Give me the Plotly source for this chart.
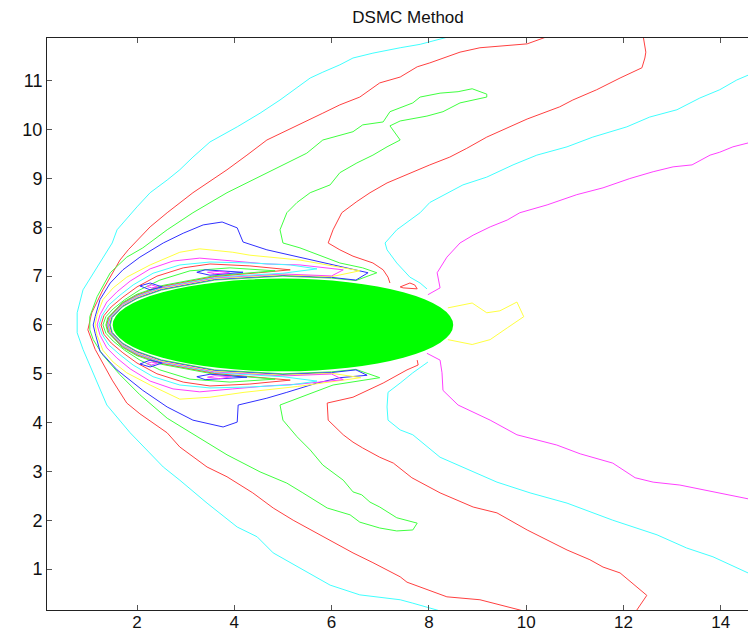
import plotly.graph_objects as go

# ---------------- data ----------------
X_TICKS = [2, 4, 6, 8, 10, 12, 14]
Y_TICKS = [1, 2, 3, 4, 5, 6, 7, 8, 9, 10, 11]
X_RANGE = [0.15, 14.56]
Y_RANGE = [0.16, 11.88]

# body (filled ellipse): centre and semi-axes
BODY_CX, BODY_CY = 5.0, 6.0
BODY_AX, BODY_AY = 3.5, 0.95

# outer cyan bow contour
C1_X = [8.58, 7.82, 7.41, 6.85, 6.44, 6.17, 5.82, 5.56, 4.94, 4.53, 4.06, 3.50, 3.15, 2.88, 2.62, 2.27, 2.00, 1.59, 1.49, 1.24,
        0.89, 0.77, 0.77, 0.89, 1.24, 1.38, 1.86, 2.21, 2.54, 2.88, 3.44, 4.06, 4.47, 4.80, 5.41, 5.97, 6.58, 7.41, 7.67, 8.55]
C1_Y = [11.95, 11.75, 11.68, 11.57, 11.47, 11.33, 11.18, 11.06, 10.61, 10.34, 10.06, 9.75, 9.44, 9.18, 8.97, 8.71, 8.42, 7.95, 7.68, 7.29,
        6.72, 6.25, 5.84, 5.50, 4.66, 4.36, 3.79, 3.44, 3.09, 2.82, 2.35, 1.86, 1.66, 1.33, 0.98, 0.67, 0.47, 0.37, 0.30, 0.05]

# outer red bow contour
R1_X = [10.55, 10.02, 9.05, 8.64, 8.02, 7.76, 7.41, 6.99, 6.58, 6.17, 5.82, 5.21, 4.67, 4.26, 3.85, 3.15, 2.88, 2.62, 2.27, 1.82,
        1.65, 1.30, 1.07, 0.99, 1.14, 1.49, 1.79, 2.06, 2.62, 2.88, 3.44, 3.85, 4.38, 4.80, 5.21, 5.82, 6.44, 6.85, 7.41, 7.55,
        8.37, 9.05, 10.30]
R1_Y = [11.95, 11.76, 11.68, 11.59, 11.37, 11.29, 11.08, 10.96, 10.67, 10.51, 10.34, 10.04, 9.79, 9.48, 9.18, 8.71, 8.51, 8.30, 8.01, 7.54,
        7.33, 6.72, 6.25, 5.90, 5.50, 4.87, 4.40, 4.18, 3.79, 3.50, 3.09, 2.89, 2.56, 2.25, 2.00, 1.66, 1.33, 1.13, 0.84, 0.73,
        0.43, 0.37, 0.05]

# outer green contour (with the loop top right and the fingers along the body)
G1_OUT_X = [6.93, 6.64, 6.17, 5.76, 5.35, 5.00, 4.94, 5.08, 5.29, 5.56, 5.97, 6.17, 6.52, 6.85, 7.14, 7.41, 7.20, 7.41, 7.96, 8.29,
            8.64, 9.19, 9.19, 8.89, 8.60, 8.23, 7.82, 7.67, 7.20, 7.06, 6.64, 6.44, 5.82, 5.49, 4.80, 4.38, 3.85, 3.15, 2.62, 2.12,
            1.79, 1.45, 1.18, 1.03, 1.03, 1.10, 1.30, 1.65, 2.06, 2.62, 3.44, 3.85, 4.53, 5.08, 5.41, 5.91, 6.38, 6.58, 6.99, 7.34,
            7.67, 7.76, 7.34, 6.99, 6.79, 6.62, 6.44, 6.24, 5.82, 5.56, 5.29, 5.00, 4.94, 5.35, 6.03, 6.99]
G1_OUT_Y = [7.07, 7.17, 7.27, 7.43, 7.58, 7.68, 7.95, 8.30, 8.51, 8.71, 8.87, 9.12, 9.32, 9.48, 9.65, 9.79, 10.08, 10.18, 10.28, 10.37,
            10.55, 10.67, 10.73, 10.84, 10.78, 10.75, 10.67, 10.55, 10.37, 10.16, 10.10, 9.96, 9.79, 9.52, 9.18, 8.97, 8.71, 8.30, 7.95, 7.58,
            7.39, 7.07, 6.58, 6.17, 5.90, 5.70, 5.38, 4.98, 4.57, 4.09, 3.58, 3.34, 2.99, 2.76, 2.56, 2.25, 2.11, 1.96, 1.84, 1.78,
            1.80, 1.94, 2.05, 2.27, 2.37, 2.52, 2.58, 2.82, 3.13, 3.44, 3.71, 4.05, 4.36, 4.52, 4.77, 4.92]
G1_RET_X = [6.5, 6.0, 5.0, 3.6, 2.5, 2.0, 1.7, 1.49, 1.45, 1.49, 1.7, 2.0, 2.5, 3.6, 5.0, 6.0, 6.5, 6.93]
G1_RET_Y = [5.09, 5.04, 5.0, 5.08, 5.285, 5.46, 5.63, 5.85, 6.0, 6.15, 6.37, 6.54, 6.715, 6.92, 7.0, 6.96, 6.91, 7.07]

# dense contours hugging the nose (outer side, then the return near the body)
B_OUT_X = [6.75, 6.03, 5.35, 4.67, 4.18, 4.06, 3.75, 3.36, 2.95, 2.54, 2.06, 1.71, 1.45, 1.24, 1.14, 1.10, 1.14, 1.24, 1.59, 2.12,
           2.62, 3.15, 3.77, 4.06, 4.08, 4.67, 5.08, 5.70, 6.17, 6.73]
B_OUT_Y = [7.07, 7.23, 7.39, 7.54, 7.70, 7.99, 8.11, 8.05, 7.88, 7.68, 7.39, 7.13, 6.86, 6.52, 6.17, 6.00, 5.83, 5.46, 5.08, 4.66,
           4.32, 4.05, 3.91, 4.01, 4.36, 4.50, 4.62, 4.81, 4.92, 4.97]
B_RET_X = [6.5, 6.0, 5.0, 3.6, 2.5, 2.0, 1.7, 1.475, 1.435, 1.475, 1.7, 2.0, 2.5, 3.6, 5.0, 6.0, 6.5, 6.75]
B_RET_Y = [5.08, 5.025, 4.985, 5.065, 5.27, 5.445, 5.615, 5.85, 6.0, 6.15, 6.385, 6.555, 6.73, 6.935, 7.015, 6.975, 6.92, 7.07]

Y_OUT_X = [6.58, 6.03, 5.35, 4.32, 3.97, 3.29, 2.88, 2.27, 1.79, 1.51, 1.30, 1.18, 1.14, 1.18, 1.30, 1.51, 1.79, 2.27, 2.88, 3.5,
           4.2, 5.3, 6.0, 6.6]
Y_OUT_Y = [7.11, 7.21, 7.33, 7.43, 7.49, 7.56, 7.49, 7.23, 6.98, 6.76, 6.52, 6.21, 6.00, 5.79, 5.48, 5.24, 5.02, 4.77, 4.48, 4.52,
           4.62, 4.74, 4.83, 4.92]
Y_RET_X = [6.0, 5.0, 3.6, 2.5, 2.0, 1.7, 1.46, 1.42, 1.46, 1.7, 2.0, 2.5, 3.6, 5.0, 6.0, 6.58]
Y_RET_Y = [5.01, 4.97, 5.05, 5.255, 5.43, 5.60, 5.85, 6.0, 6.15, 6.40, 6.57, 6.745, 6.95, 7.03, 6.99, 7.11]

M_OUT_X = [6.24, 5.35, 4.67, 3.97, 3.29, 2.74, 2.27, 1.86, 1.59, 1.38, 1.24, 1.18, 1.24, 1.38, 1.59, 1.86, 2.27, 2.74, 3.29, 3.97,
           4.67, 5.35, 6.24]
M_OUT_Y = [7.13, 7.23, 7.25, 7.31, 7.37, 7.31, 7.15, 6.90, 6.68, 6.47, 6.21, 6.00, 5.79, 5.53, 5.32, 5.10, 4.85, 4.69, 4.63, 4.69,
           4.75, 4.79, 4.88]
M_RET_X = [6.0, 5.0, 3.6, 2.5, 2.0, 1.7, 1.445, 1.405, 1.445, 1.7, 2.0, 2.5, 3.6, 5.0, 6.0, 6.24]
M_RET_Y = [4.995, 4.955, 5.035, 5.24, 5.415, 5.585, 5.85, 6.0, 6.15, 6.415, 6.585, 6.76, 6.965, 7.045, 7.005, 7.13]

C2_OUT_X = [5.70, 5.15, 4.32, 3.50, 2.88, 2.33, 1.92, 1.65, 1.42, 1.28, 1.22, 1.28, 1.42, 1.65, 1.92, 2.33, 2.88, 3.50, 4.32, 5.15, 5.70]
C2_OUT_Y = [7.15, 7.23, 7.27, 7.29, 7.23, 7.06, 6.82, 6.61, 6.41, 6.19, 6.00, 5.81, 5.59, 5.39, 5.18, 4.94, 4.77, 4.71, 4.73, 4.77, 4.85]
C2_RET_X = [5.0, 3.6, 2.5, 2.0, 1.7, 1.43, 1.39, 1.43, 1.7, 2.0, 2.5, 3.6, 5.0, 5.70]
C2_RET_Y = [4.94, 5.02, 5.225, 5.40, 5.57, 5.85, 6.0, 6.15, 6.43, 6.60, 6.775, 6.98, 7.06, 7.15]

R3_OUT_X = [5.15, 4.32, 3.50, 2.95, 2.41, 2.00, 1.71, 1.47, 1.32, 1.26, 1.32, 1.47, 1.71, 2.00, 2.41, 2.95, 3.50, 4.32, 5.15]
R3_OUT_Y = [7.13, 7.21, 7.25, 7.17, 7.00, 6.78, 6.57, 6.37, 6.19, 6.00, 5.81, 5.63, 5.43, 5.22, 5.00, 4.83, 4.75, 4.79, 4.87]
R3_RET_X = [4.5, 3.6, 2.5, 2.0, 1.7, 1.415, 1.375, 1.415, 1.7, 2.0, 2.5, 3.6, 4.5, 5.15]
R3_RET_Y = [4.93, 5.005, 5.21, 5.385, 5.555, 5.85, 6.0, 6.15, 6.445, 6.615, 6.79, 6.995, 7.07, 7.13]

G2_OUT_X = [4.84, 3.91, 3.09, 2.47, 2.06, 1.75, 1.51, 1.36, 1.30, 1.36, 1.51, 1.75, 2.06, 2.47, 3.09, 3.91, 4.84]
G2_OUT_Y = [7.11, 7.17, 7.11, 6.92, 6.72, 6.52, 6.33, 6.17, 6.00, 5.83, 5.67, 5.48, 5.28, 5.08, 4.89, 4.83, 4.89]
G2_RET_X = [3.6, 2.5, 2.0, 1.7, 1.40, 1.36, 1.40, 1.7, 2.0, 2.5, 3.6, 4.84]
G2_RET_Y = [4.99, 5.195, 5.37, 5.54, 5.85, 6.0, 6.15, 6.46, 6.63, 6.805, 7.01, 7.11]

# small closed contours near the body
SB_UP_X, SB_UP_Y = [3.23, 3.40, 4.18, 3.50, 3.23], [7.08, 7.13, 7.08, 7.02, 7.08]
SM_UP_X, SM_UP_Y = [3.45, 3.70, 3.90, 3.60, 3.45], [7.08, 7.10, 7.07, 7.05, 7.08]
SB_LO_X, SB_LO_Y = [3.23, 3.40, 4.26, 3.50, 3.23], [4.94, 4.88, 4.93, 4.99, 4.94]
SM_LO_X, SM_LO_Y = [3.45, 3.70, 3.95, 3.60, 3.45], [4.93, 4.90, 4.94, 4.96, 4.93]
NB_UP_X, NB_UP_Y = [2.06, 2.27, 2.52, 2.27, 2.06], [6.80, 6.86, 6.78, 6.72, 6.80]
NM_UP_X, NM_UP_Y = [2.20, 2.30, 2.42, 2.30, 2.20], [6.79, 6.82, 6.78, 6.76, 6.79]
NB_LO_X, NB_LO_Y = [2.06, 2.27, 2.52, 2.27, 2.06], [5.20, 5.14, 5.22, 5.28, 5.20]
NM_LO_X, NM_LO_Y = [2.20, 2.30, 2.42, 2.30, 2.20], [5.21, 5.18, 5.22, 5.24, 5.21]
RS_X, RS_Y = [7.41, 7.61, 7.71, 7.76, 7.47, 7.41], [6.78, 6.86, 6.82, 6.74, 6.76, 6.78]

# downstream contours (upper branch / lower branch, each ending at the body)
R2_UP_X = [12.40, 12.46, 12.44, 12.38, 11.93, 11.45, 10.96, 10.69, 10.02, 9.61, 9.19, 8.78, 8.43, 8.02, 7.41, 7.14, 6.79, 6.52,
           6.21, 6.03, 5.93, 6.17, 6.44, 6.85, 7.06, 7.16, 7.20]
R2_UP_Y = [11.95, 11.59, 11.47, 11.27, 11.06, 10.82, 10.61, 10.47, 10.22, 10.04, 9.85, 9.62, 9.44, 9.28, 9.03, 8.91, 8.71, 8.53,
           8.30, 7.95, 7.68, 7.54, 7.41, 7.27, 7.13, 6.98, 6.86]
R2_LO_X = [7.76, 7.78, 7.55, 7.06, 6.44, 5.91, 5.93, 6.24, 6.44, 6.64, 6.99, 7.27, 7.65, 8.23, 8.91, 9.40, 10.02, 10.84, 11.31,
           11.58, 11.93, 12.13, 12.48, 12.20]
R2_LO_Y = [5.28, 5.18, 5.08, 4.81, 4.52, 4.40, 4.05, 3.75, 3.60, 3.48, 3.29, 3.17, 2.87, 2.56, 2.27, 2.15, 1.80, 1.39, 1.19,
           1.04, 0.92, 0.75, 0.46, 0.05]

C3_UP_X = [14.8, 14.56, 14.33, 13.98, 13.57, 13.10, 12.54, 12.07, 11.37, 10.84, 10.22, 9.73, 9.19, 8.70, 8.02, 7.82, 7.34, 7.10,
           7.14, 7.34, 7.61, 7.82, 7.96]
C3_UP_Y = [11.22, 11.12, 11.02, 10.82, 10.65, 10.41, 10.26, 10.06, 9.85, 9.65, 9.48, 9.28, 9.03, 8.87, 8.51, 8.30, 7.95, 7.68,
           7.54, 7.27, 6.98, 6.86, 6.74]
C3_LO_X = [7.98, 7.67, 7.41, 7.16, 7.14, 7.16, 7.41, 7.67, 8.23, 8.91, 9.40, 10.08, 10.84, 11.78, 12.69, 13.30, 13.84, 14.56, 14.8]
C3_LO_Y = [5.24, 5.02, 4.81, 4.62, 4.32, 4.05, 3.85, 3.75, 3.29, 2.99, 2.78, 2.56, 2.35, 2.00, 1.70, 1.43, 1.25, 0.92, 0.82]

M2_UP_X = [14.8, 14.56, 14.25, 13.98, 13.78, 13.41, 13.02, 12.61, 12.13, 11.58, 11.04, 10.43, 9.87, 9.61, 9.26, 8.91, 8.64, 8.37,
           8.17, 8.23, 7.98]
M2_UP_Y = [9.79, 9.73, 9.65, 9.54, 9.48, 9.28, 9.24, 9.14, 9.00, 8.81, 8.67, 8.46, 8.30, 8.15, 8.01, 7.84, 7.68, 7.39,
           7.07, 6.76, 6.62]
M2_LO_X = [7.96, 8.23, 8.27, 8.29, 8.60, 9.26, 9.81, 10.22, 10.63, 11.11, 11.78, 12.24, 12.61, 13.16, 13.84, 14.56, 14.8]
M2_LO_Y = [5.42, 5.28, 5.02, 4.66, 4.36, 4.05, 3.75, 3.64, 3.54, 3.36, 3.17, 2.87, 2.78, 2.72, 2.58, 2.43, 2.39]

# small yellow loop in the wake
YW_X = [8.39, 8.89, 9.19, 9.46, 9.81, 9.95, 9.61, 9.26, 8.89, 8.39]
YW_Y = [6.35, 6.45, 6.25, 6.29, 6.47, 6.17, 5.94, 5.70, 5.60, 5.70]

# ---------------- figure ----------------
CYAN, RED, GREEN = "#40ffff", "#ff4040", "#40ff40"
BLUE, YELLOW, MAGENTA = "#3030ff", "#ffff40", "#ff40ff"

lines = [
    (C1_X, C1_Y, CYAN),
    (R1_X, R1_Y, RED),
    (G1_OUT_X + G1_RET_X, G1_OUT_Y + G1_RET_Y, GREEN),
    (B_OUT_X + B_RET_X, B_OUT_Y + B_RET_Y, BLUE),
    (Y_OUT_X + Y_RET_X, Y_OUT_Y + Y_RET_Y, YELLOW),
    (M_OUT_X + M_RET_X, M_OUT_Y + M_RET_Y, MAGENTA),
    (C2_OUT_X + C2_RET_X, C2_OUT_Y + C2_RET_Y, CYAN),
    (R3_OUT_X + R3_RET_X, R3_OUT_Y + R3_RET_Y, RED),
    (G2_OUT_X + G2_RET_X, G2_OUT_Y + G2_RET_Y, GREEN),
    (SB_UP_X, SB_UP_Y, BLUE), (SM_UP_X, SM_UP_Y, MAGENTA),
    (SB_LO_X, SB_LO_Y, BLUE), (SM_LO_X, SM_LO_Y, MAGENTA),
    (NB_UP_X, NB_UP_Y, BLUE), (NM_UP_X, NM_UP_Y, MAGENTA),
    (NB_LO_X, NB_LO_Y, BLUE), (NM_LO_X, NM_LO_Y, MAGENTA),
    (RS_X, RS_Y, RED),
    (R2_UP_X, R2_UP_Y, RED), (R2_LO_X, R2_LO_Y, RED),
    (C3_UP_X, C3_UP_Y, CYAN), (C3_LO_X, C3_LO_Y, CYAN),
    (M2_UP_X, M2_UP_Y, MAGENTA), (M2_LO_X, M2_LO_Y, MAGENTA),
    (YW_X, YW_Y, YELLOW),
]

fig = go.Figure()
for xs, ys, col in lines:
    fig.add_trace(go.Scatter(x=xs, y=ys, mode="lines", line=dict(color=col, width=1),
                             hoverinfo="skip", showlegend=False))

fig.add_shape(type="circle", xref="x", yref="y",
              x0=BODY_CX - BODY_AX, x1=BODY_CX + BODY_AX,
              y0=BODY_CY - BODY_AY, y1=BODY_CY + BODY_AY,
              fillcolor="#00ff00", line=dict(width=0), layer="above")

FONT = "Liberation Sans, Arial, Helvetica, sans-serif"
fig.update_layout(
    width=748, height=634,
    margin=dict(l=47, r=0, t=38, b=24, autoexpand=False),
    paper_bgcolor="white", plot_bgcolor="white",
    font=dict(family=FONT, size=18, color="#111111"),
    title=dict(text="DSMC Method", x=0.515, xref="paper", xanchor="center",
               y=1 - 17 / 634, yref="container", yanchor="middle",
               font=dict(family=FONT, size=17, color="#111111")),
    xaxis=dict(range=X_RANGE, tickvals=X_TICKS, ticks="inside", ticklen=5, tickcolor="#555555",
               showline=True, linecolor="#222222", linewidth=1, mirror="ticks",
               showgrid=False, zeroline=False, fixedrange=True, automargin=False,
               tickfont=dict(size=17), ticklabelstandoff=-3),
    yaxis=dict(range=Y_RANGE, tickvals=Y_TICKS, ticks="inside", ticklen=5, tickcolor="#555555",
               showline=True, linecolor="#222222", linewidth=1, mirror=False,
               showgrid=False, zeroline=False, fixedrange=True, automargin=False),
)

fig.write_html("out.html")
